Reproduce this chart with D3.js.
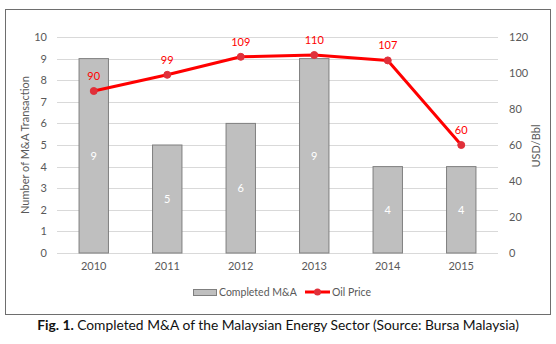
<!DOCTYPE html>
<html><head><meta charset="utf-8">
<script src="https://cdn.jsdelivr.net/npm/d3@7"></script>
<style>body{margin:0;background:#fff}svg{display:block}</style>
</head><body>
<svg id="c" width="556" height="344"></svg>
<script>
const years = ["2010","2011","2012","2013","2014","2015"];
const deals = [9,5,6,9,4,4];
const oilPrice = [90,99,109,110,107,60];
const leftTicks = [0,1,2,3,4,5,6,7,8,9,10];
const rightTicks = [0,20,40,60,80,100,120];

const svg = d3.select("#c");
const font = "Lato, 'Open Sans', sans-serif";
const L = 57, R = 498, T = 37, B = 253;

svg.append("rect").attr("x",5.5).attr("y",9.5).attr("width",545).attr("height",305)
  .attr("fill","#fff").attr("stroke","#6e6e6e").attr("stroke-width",1);

const x = d3.scaleBand().domain(years).range([L,R]).paddingInner(0.6).paddingOuter(0.3);
const y = d3.scaleLinear().domain([0,10]).range([B,T]);
const y2 = d3.scaleLinear().domain([0,120]).range([B,T]);

// gridlines
svg.append("g").selectAll("line").data(leftTicks).join("line")
  .attr("x1",L).attr("x2",R).attr("y1",d=>Math.round(y(d))+0.5).attr("y2",d=>Math.round(y(d))+0.5)
  .attr("stroke","#d9d9d9").attr("stroke-width",1);

// left axis
const ax = d3.axisLeft(y).tickValues(leftTicks).tickSize(0).tickPadding(10);
const gl = svg.append("g").attr("transform",`translate(${L},0)`).call(ax);
gl.select(".domain").remove();
gl.selectAll("text").attr("font-family",font).attr("font-size",11).attr("fill","#595959");

// right axis
const ax2 = d3.axisRight(y2).tickValues(rightTicks).tickSize(0).tickPadding(11);
const gr = svg.append("g").attr("transform",`translate(${R},0)`).call(ax2);
gr.select(".domain").remove();
gr.selectAll("text").attr("font-family",font).attr("font-size",11).attr("fill","#595959");

// x axis
const axb = d3.axisBottom(x).tickSize(0).tickPadding(9);
const gb = svg.append("g").attr("transform",`translate(0,${B})`).call(axb);
gb.select(".domain").remove();
gb.selectAll("text").attr("font-family",font).attr("font-size",11).attr("fill","#595959");

// bars
svg.append("g").selectAll("rect").data(years).join("rect")
  .attr("x",d=>x(d)).attr("y",(d,i)=>y(deals[i])).attr("width",x.bandwidth())
  .attr("height",(d,i)=>B-y(deals[i]))
  .attr("fill","#bfbfbf").attr("stroke","#7f7f7f").attr("stroke-width",1);

svg.append("g").selectAll("text").data(years).join("text")
  .attr("x",d=>x(d)+x.bandwidth()/2).attr("y",(d,i)=>(y(deals[i])+B)/2)
  .attr("dy","0.35em").attr("text-anchor","middle")
  .attr("font-family",font).attr("font-size",11).attr("fill","#fff").text((d,i)=>deals[i]);

// line
const line = d3.line().x((d,i)=>x(years[i])+x.bandwidth()/2).y(d=>y2(d));
svg.append("path").datum(oilPrice).attr("d",line).attr("fill","none")
  .attr("stroke","#ff0000").attr("stroke-width",3).attr("stroke-linejoin","round");
svg.append("g").selectAll("circle").data(oilPrice).join("circle")
  .attr("cx",(d,i)=>x(years[i])+x.bandwidth()/2).attr("cy",d=>y2(d)).attr("r",3.5)
  .attr("fill","#e0303a").attr("stroke","#e0303a");
svg.append("g").selectAll("text").data(oilPrice).join("text")
  .attr("x",(d,i)=>x(years[i])+x.bandwidth()/2).attr("y",d=>y2(d)-11)
  .attr("text-anchor","middle").attr("font-family",font).attr("font-size",11).attr("fill","#ff0000").text(d=>d);

// axis titles
svg.append("text").attr("transform",`translate(29,${(T+B)/2}) rotate(-90)`)
  .attr("text-anchor","middle").attr("font-family",font).attr("font-size",11).attr("fill","#595959")
  .text("Number of M&A Transaction");
svg.append("text").attr("transform",`translate(540,146) rotate(-90)`)
  .attr("text-anchor","middle").attr("font-family",font).attr("font-size",11).attr("fill","#595959")
  .text("USD/Bbl");

// legend
const lg = svg.append("g");
lg.append("rect").attr("x",193.5).attr("y",289.5).attr("width",23).attr("height",6)
  .attr("fill","#bfbfbf").attr("stroke","#7f7f7f");
lg.append("text").attr("x",219).attr("y",292.5).attr("dy","0.35em").attr("font-family",font)
  .attr("font-size",10.5).attr("fill","#595959").text("Completed M&A");
lg.append("line").attr("x1",305).attr("x2",330).attr("y1",292).attr("y2",292)
  .attr("stroke","#ff0000").attr("stroke-width",3);
lg.append("circle").attr("cx",317.5).attr("cy",292).attr("r",3.5).attr("fill","#e0303a");
lg.append("text").attr("x",332).attr("y",292.5).attr("dy","0.35em").attr("font-family",font)
  .attr("font-size",10.5).attr("fill","#595959").text("Oil Price");

// caption
const cap = svg.append("text").attr("x",278).attr("y",330).attr("text-anchor","middle")
  .attr("font-family",font).attr("font-size",13.8).attr("fill","#111");
cap.append("tspan").attr("font-weight","bold").text("Fig. 1.");
cap.append("tspan").text(" Completed M&A of the Malaysian Energy Sector (Source: Bursa Malaysia)");
</script>
</body></html>
